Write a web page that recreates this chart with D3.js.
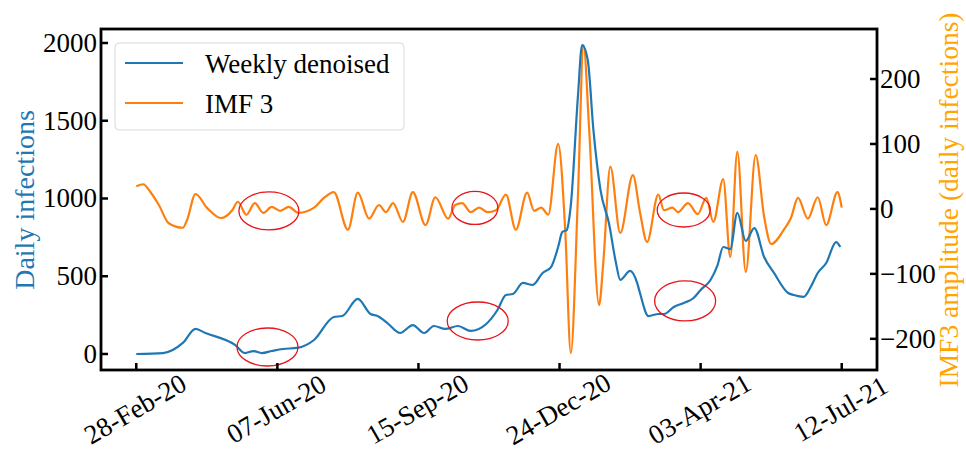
<!DOCTYPE html>
<html><head><meta charset="utf-8">
<script src="https://cdn.jsdelivr.net/npm/d3@7"></script>
<style>body{margin:0;background:#fff}text{font-family:"Liberation Serif","Times New Roman",serif}</style>
</head><body><svg id="c" width="966" height="451"></svg>
<script>
// ---------- data ----------
const startDate = "2020-02-28";
const tickDays = [0, 100, 200, 300, 400, 500];
const leftTicks = [0, 500, 1000, 1500, 2000];
const rightTicks = [-200, -100, 0, 100, 200];
const seriesNames = ["Weekly denoised", "IMF 3"];

const denoisedDays = [0,19,33,42,49,70,77,83,89,96,104,114,126,140,146,157,166,171,178,187,196,204,211,219,228,237,248,256,262,267,274,281,288,294,299,302,305,308,313,316,320,324,329,335,340,343,350,355,357,363,370,374,381,388,395,400,407,412,416,421,426,432,438,445,452,462,466,473,478,483,489,496,499];
const denoisedValues = [0,6,71,161,135,58,6,19,6,19,32,39,90,238,244,354,257,244,199,135,186,135,180,161,180,148,193,283,379,386,457,444,521,559,688,785,797,958,1653,1987,1891,1441,1055,842,585,476,534,457,392,244,257,257,302,328,360,412,476,572,688,675,907,727,810,624,521,392,379,367,431,521,585,720,688];

const imfDays = [0,5,10,16,23,33,36,42,50,60,68,72,78,84,90,96,102,108,115,126,133,140,150,157,165,172,177,182,189,196,205,212,221,226,231,237,243,249,255,262,269,277,282,287,292,299,304,308,313,317,321,328,331,336,343,352,357,362,370,374,380,384,391,398,404,409,416,421,426,432,439,445,450,459,464,469,476,483,489,497,500];
const imfValues = [35,38,26,6,-22,-29,-17,23,2,-14,-2,11,-9,9,-6,3,-3,3,-6,2,17,26,-32,25,-15,6,-5,9,-20,26,-25,18,-15,6,9,-5,2,-5,-2,22,-32,25,-3,2,-9,100,-32,-222,18,252,122,-148,-83,65,-37,52,-5,-51,22,-2,2,-5,9,-8,17,-20,46,-74,88,-97,83,-12,-54,-32,-14,17,-15,18,-25,26,2];

const highlightDays = [94, 240, 388, 93, 242, 389];
const highlightValues = [920, 939, 926, 45, 212, 341];

// ---------- layout ----------
const L = 101, R = 877, T = 29, B = 370;
const svg = d3.select("#c");
const t0 = d3.utcParse("%Y-%m-%d")(startDate);
const day = d => d3.utcDay.offset(t0, d);

const x = d3.scaleUtc().domain([day(-25), day(525)]).range([L, R]);
const yL = d3.scaleLinear().domain([-103, 2090]).range([B, T]);
const yR = d3.scaleLinear().domain([-248, 277]).range([B, T]);

const blue = "#1f77b4", orange = "#ff7f0e";
const fs = 27;

// lines
const denoised = denoisedDays.map((d, i) => [day(d), denoisedValues[i]]);
const imf = imfDays.map((d, i) => [day(d), imfValues[i]]);

svg.append("path").datum(imf)
  .attr("fill", "none").attr("stroke", orange).attr("stroke-width", 2.2)
  .attr("d", d3.line().x(d => x(d[0])).y(d => yR(d[1])).curve(d3.curveMonotoneX));
svg.append("path").datum(denoised)
  .attr("fill", "none").attr("stroke", blue).attr("stroke-width", 2.2)
  .attr("d", d3.line().x(d => x(d[0])).y(d => yL(d[1])).curve(d3.curveMonotoneX));

// highlight ellipses
const ellSizes = [[30,19],[23,16.5],[26.5,17],[30.5,19],[30.5,19],[30.5,20]];
svg.selectAll("ellipse.hl").data(highlightDays).join("ellipse")
  .attr("cx", (d) => x(day(d)))
  .attr("cy", (d, i) => yL(highlightValues[i]))
  .attr("rx", (d, i) => ellSizes[i][0])
  .attr("ry", (d, i) => ellSizes[i][1])
  .attr("fill", "none").attr("stroke", "#e8141b").attr("stroke-width", 1.3);

// spines
svg.append("rect").attr("x", L).attr("y", T).attr("width", R - L).attr("height", B - T)
  .attr("fill", "none").attr("stroke", "#000").attr("stroke-width", 2.8);

// x ticks
const fmt = d3.utcFormat("%d-%b-%y");
tickDays.forEach(d => {
  const px = x(day(d));
  svg.append("line").attr("x1", px).attr("x2", px).attr("y1", B).attr("y2", B - 7)
    .attr("stroke", "#000").attr("stroke-width", 2.5);
  svg.append("text").attr("transform", `translate(${px - 1},${409}) rotate(-30)`)
    .attr("text-anchor", "middle").attr("dominant-baseline", "central")
    .attr("font-size", fs).attr("fill", "#000").text(fmt(day(d)));
});

// left ticks
const nf = d3.format("d");
leftTicks.forEach(v => {
  const py = yL(v);
  svg.append("line").attr("x1", L).attr("x2", L + 7).attr("y1", py).attr("y2", py)
    .attr("stroke", "#000").attr("stroke-width", 2.5);
  svg.append("text").attr("x", L - 4).attr("y", py).attr("text-anchor", "end")
    .attr("dominant-baseline", "central").attr("font-size", fs).text(nf(v));
});
// right ticks
rightTicks.forEach(v => {
  const py = yR(v);
  svg.append("line").attr("x1", R).attr("x2", R - 7).attr("y1", py).attr("y2", py)
    .attr("stroke", "#000").attr("stroke-width", 2.5);
  svg.append("text").attr("x", R + 3).attr("y", py).attr("text-anchor", "start")
    .attr("dominant-baseline", "central").attr("font-size", fs).text(nf(v));
});

// axis labels
svg.append("text").attr("transform", `translate(34,200) rotate(-90)`)
  .attr("text-anchor", "middle").attr("font-size", 28).attr("fill", blue).text("Daily infections");
svg.append("text").attr("transform", `translate(958,200) rotate(-90)`)
  .attr("text-anchor", "middle").attr("font-size", 27.5).attr("fill", "orange").text("IMF3 amplitude (daily infections)");

// legend
const lg = svg.append("g");
lg.append("rect").attr("x", 115).attr("y", 43).attr("width", 289).attr("height", 87).attr("rx", 4)
  .attr("fill", "#fff").attr("fill-opacity", 0.8).attr("stroke", "#d9d9d9").attr("stroke-width", 1);
[blue, orange].forEach((c, i) => {
  const yy = 63 + i * 40;
  lg.append("line").attr("x1", 125).attr("x2", 183).attr("y1", yy).attr("y2", yy)
    .attr("stroke", c).attr("stroke-width", 2.2);
  lg.append("text").attr("x", 205).attr("y", yy + 10).attr("font-size", fs).text(seriesNames[i]);
});
</script></body></html>
